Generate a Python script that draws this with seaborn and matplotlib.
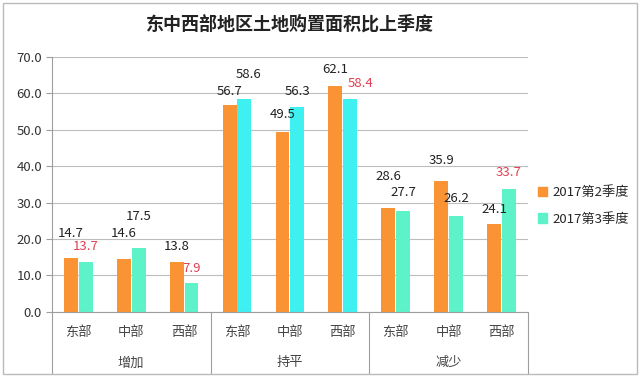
import pandas as pd
import matplotlib
matplotlib.use('Agg')
import matplotlib.pyplot as plt
import matplotlib.transforms as mtransforms
from matplotlib.patches import Rectangle
import seaborn as sns

# 数据
groups = ['增加', '持平', '减少']
regions = ['东部', '中部', '西部']
series = ['2017第2季度', '2017第3季度']
q2_values = [14.7, 14.6, 13.8, 56.7, 49.5, 62.1, 28.6, 35.9, 24.1]
q3_values = [13.7, 17.5, 7.9, 58.6, 56.3, 58.4, 27.7, 26.2, 33.7]
y_ticks = [0, 10, 20, 30, 40, 50, 60, 70]

# 标签样式 (偏移, 像素; 红色标记)
q2_label_dy = [25, 25, 15, 14, 17, 16, 31, 21, 15]
q3_label_dy = [15, 32, 15, 24, 15, 16, 19, 18, 17]
q3_label_dx = [0, 0, 0, 4, 0, 10, 0, 0, 0]
q3_red = [True, False, True, False, False, True, False, False, True]


def build_frame():
    rows = []
    for i, (g, r) in enumerate([(g, r) for g in groups for r in regions]):
        key = f'{g}-{r}'
        rows.append({'key': key, 'quarter': series[0], 'value': q2_values[i]})
        rows.append({'key': key, 'quarter': series[1], 'value': q3_values[i]})
    return pd.DataFrame(rows)


def plot_chart(data, save_path='out.png'):
    sns.set_theme(style='white')
    plt.rcParams['font.family'] = ['Noto Sans CJK SC', 'DejaVu Sans']

    fig = plt.figure(figsize=(6.4, 3.78), dpi=100)
    ax = fig.add_axes([0.081, 0.175, 0.744, 0.674])

    orange = '#FA9333'
    aqua = '#5EF2C8'
    cyan = '#3EF0F0'
    keys = list(dict.fromkeys(data['key']))
    sns.barplot(
        data=data, x='key', y='value', hue='quarter', order=keys,
        hue_order=series, palette=[orange, aqua], width=0.56, gap=0.06,
        saturation=1, edgecolor='none', ax=ax, legend=False
    )

    # 持平组第3季度颜色偏青
    for idx in range(3, 6):
        ax.containers[1][idx].set_facecolor(cyan)

    ax.set_ylim(0, 70)
    ax.set_yticks(y_ticks)
    ax.set_yticklabels([f'{v:.1f}' for v in y_ticks], fontsize=9.5, color='#333333')
    ax.yaxis.grid(True, color='#BDBDBD', linewidth=0.8)
    ax.set_axisbelow(True)
    ax.set_xlim(-0.5, len(keys) - 0.5)
    ax.set_xticks(range(len(keys)))
    ax.set_xticklabels(regions * len(groups), fontsize=9.5, color='#444444')
    ax.tick_params(axis='x', length=0, pad=10)
    ax.tick_params(axis='y', length=4, color='#9E9E9E', left=True, width=0.8, pad=3)
    ax.set_xlabel('')
    ax.set_ylabel('')
    for side in ['top', 'right']:
        ax.spines[side].set_visible(False)
    for side in ['left', 'bottom']:
        ax.spines[side].set_color('#9E9E9E')
        ax.spines[side].set_linewidth(0.8)

    # 数据标签
    label_sets = [(q2_label_dy, [0] * 9, [False] * 9), (q3_label_dy, q3_label_dx, q3_red)]
    for ci, (dys, dxs, reds) in enumerate(label_sets):
        for bar, dy, dx, red in zip(ax.containers[ci], dys, dxs, reds):
            h = bar.get_height()
            ax.annotate(
                f'{h:.1f}', (bar.get_x() + bar.get_width() / 2, h),
                xytext=(dx * 0.72, dy * 0.72), textcoords='offset points',
                ha='center', va='center', fontsize=9.5,
                color='#E04050' if red else '#222222'
            )

    # 分组标签和分隔线
    trans = mtransforms.blended_transform_factory(ax.transData, ax.transAxes)
    for gi, g in enumerate(groups):
        ax.text(gi * 3 + 1, -0.2, g, transform=trans, ha='center', va='center',
                fontsize=9.5, color='#444444')
    for b in [-0.5, 2.5, 5.5, 8.5]:
        ax.plot([b, b], [0, -0.245], transform=trans, color='#9E9E9E',
                linewidth=0.8, clip_on=False)

    ax.set_title('东中西部地区土地购置面积比上季度', fontsize=13, fontweight='bold',
                 color='#222222', pad=20)

    # 图例
    handles = [Rectangle((0, 0), 1, 1, color=orange), Rectangle((0, 0), 1, 1, color=aqua)]
    fig.legend(handles, series, loc='center left', bbox_to_anchor=(0.822, 0.455),
               frameon=False, fontsize=9.5, handlelength=0.7, handleheight=0.7,
               handletextpad=0.4, labelspacing=1.0)

    # 外框
    fig.patches.append(Rectangle((0.005, 0.01), 0.99, 0.982, transform=fig.transFigure,
                                 fill=False, edgecolor='#BBBBBB', linewidth=1))

    fig.savefig(save_path, dpi=100)


if __name__ == "__main__":
    plot_chart(build_frame())
